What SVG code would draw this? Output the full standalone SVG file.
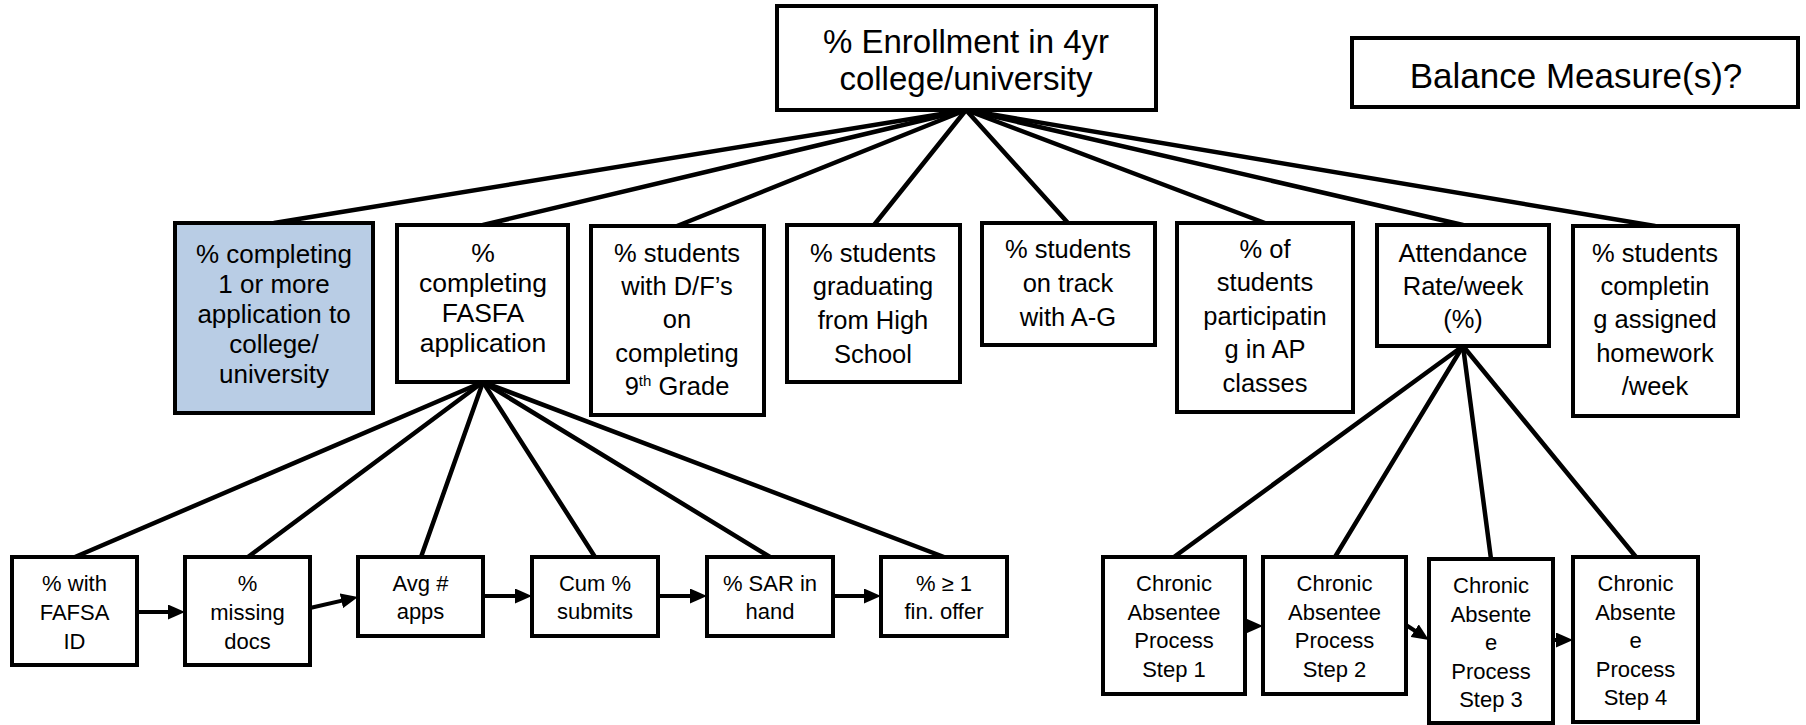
<svg xmlns="http://www.w3.org/2000/svg" width="1806" height="725" viewBox="0 0 1806 725">
  <style>
    .box { fill: #ffffff; stroke: #000000; stroke-width: 4; }
    .hi { fill: #b9cde5; }
    .lbl { font-family: "Liberation Sans", Arial, sans-serif; fill: #000000; text-anchor: middle; }
    .link { stroke: #000000; stroke-width: 4.5; stroke-linecap: round; fill: none; }
    .flow { stroke: #000000; stroke-width: 4; fill: none; marker-end: url(#arrow); }
  </style>
  <defs>
    <marker id="arrow" markerUnits="userSpaceOnUse" markerWidth="17" markerHeight="15" refX="4" refY="7.5" orient="auto">
      <path d="M0,0 L17,7.5 L0,15 z" fill="#000000"/>
    </marker>
  </defs>

  <rect width="1806" height="725" fill="#ffffff"/>

  <!-- tree connectors and process-flow arrows -->
  <g id="connectors">
    <!-- outcome to second-level drivers -->
    <line class="link" x1="966" y1="110" x2="274" y2="223"/>
    <line class="link" x1="966" y1="110" x2="483" y2="225"/>
    <line class="link" x1="966" y1="110" x2="677" y2="226"/>
    <line class="link" x1="966" y1="110" x2="874" y2="225"/>
    <line class="link" x1="966" y1="110" x2="1068" y2="223"/>
    <line class="link" x1="966" y1="110" x2="1265" y2="223"/>
    <line class="link" x1="966" y1="110" x2="1463" y2="225"/>
    <line class="link" x1="966" y1="110" x2="1655" y2="226"/>
    <!-- FASFA application to its process measures -->
    <line class="link" x1="483" y1="382" x2="75" y2="557"/>
    <line class="link" x1="483" y1="382" x2="248" y2="557"/>
    <line class="link" x1="483" y1="382" x2="421" y2="557"/>
    <line class="link" x1="483" y1="382" x2="595" y2="557"/>
    <line class="link" x1="483" y1="382" x2="770" y2="557"/>
    <line class="link" x1="483" y1="382" x2="944" y2="557"/>
    <!-- attendance to chronic absentee steps -->
    <line class="link" x1="1463" y1="346" x2="1174" y2="557"/>
    <line class="link" x1="1463" y1="346" x2="1335" y2="557"/>
    <line class="link" x1="1463" y1="346" x2="1491" y2="559"/>
    <line class="link" x1="1463" y1="346" x2="1636" y2="557"/>
    <!-- FASFA process flow -->
    <line class="flow" x1="137" y1="612" x2="172" y2="612"/>
    <line class="flow" x1="310" y1="608" x2="345.3" y2="599.9"/>
    <line class="flow" x1="483" y1="596" x2="519" y2="596"/>
    <line class="flow" x1="658" y1="596" x2="694" y2="596"/>
    <line class="flow" x1="833" y1="596" x2="868" y2="596"/>
    <!-- chronic absentee process flow -->
    <line class="flow" x1="1245" y1="626" x2="1250" y2="626"/>
    <line class="flow" x1="1406" y1="625" x2="1418" y2="632.8"/>
    <line class="flow" x1="1553" y1="640" x2="1560" y2="640"/>
  </g>

  <g id="outcome">
    <rect class="box" x="777" y="6" width="379" height="104"/>
    <text class="lbl" font-size="33"><tspan x="966" y="53">% Enrollment in 4yr</tspan><tspan x="966" y="90">college/university</tspan></text>
  </g>

  <g id="balance">
    <rect class="box" x="1352" y="38" width="446" height="69"/>
    <text class="lbl" font-size="35" x="1576" y="88">Balance Measure(s)?</text>
  </g>

  <g id="apply-college">
    <rect class="box hi" x="175" y="223" width="198" height="190"/>
    <text class="lbl" font-size="26"><tspan x="274" y="263">% completing</tspan><tspan x="274" y="293">1 or more</tspan><tspan x="274" y="323">application to</tspan><tspan x="274" y="353">college/</tspan><tspan x="274" y="383">university</tspan></text>
  </g>

  <g id="fasfa">
    <rect class="box" x="397" y="225" width="171" height="157"/>
    <text class="lbl" font-size="26.5"><tspan x="483" y="262">%</tspan><tspan x="483" y="292">completing</tspan><tspan x="483" y="322">FASFA</tspan><tspan x="483" y="352">application</tspan></text>
  </g>

  <g id="df-9th">
    <rect class="box" x="591" y="226" width="173" height="189"/>
    <text class="lbl" font-size="25.5"><tspan x="677" y="262">% students</tspan><tspan x="677" y="295">with D/F’s</tspan><tspan x="677" y="328">on</tspan><tspan x="677" y="362">completing</tspan><tspan x="677" y="395">9<tspan font-size="15" dy="-9">th</tspan><tspan dy="9"> Grade</tspan></tspan></text>
  </g>

  <g id="graduating">
    <rect class="box" x="787" y="225" width="173" height="157"/>
    <text class="lbl" font-size="25.5"><tspan x="873" y="262">% students</tspan><tspan x="873" y="295">graduating</tspan><tspan x="873" y="329">from High</tspan><tspan x="873" y="363">School</tspan></text>
  </g>

  <g id="a-g">
    <rect class="box" x="982" y="223" width="173" height="122"/>
    <text class="lbl" font-size="25.5"><tspan x="1068" y="258">% students</tspan><tspan x="1068" y="292">on track</tspan><tspan x="1068" y="326">with A-G</tspan></text>
  </g>

  <g id="ap-classes">
    <rect class="box" x="1177" y="223" width="176" height="189"/>
    <text class="lbl" font-size="25.5"><tspan x="1265" y="258">% of</tspan><tspan x="1265" y="291">students</tspan><tspan x="1265" y="325">participatin</tspan><tspan x="1265" y="358">g in AP</tspan><tspan x="1265" y="392">classes</tspan></text>
  </g>

  <g id="attendance">
    <rect class="box" x="1377" y="225" width="172" height="121"/>
    <text class="lbl" font-size="25.5"><tspan x="1463" y="262">Attendance</tspan><tspan x="1463" y="295">Rate/week</tspan><tspan x="1463" y="328">(%)</tspan></text>
  </g>

  <g id="homework">
    <rect class="box" x="1573" y="226" width="165" height="190"/>
    <text class="lbl" font-size="25.5"><tspan x="1655" y="262">% students</tspan><tspan x="1655" y="295">completin</tspan><tspan x="1655" y="328">g assigned</tspan><tspan x="1655" y="362">homework</tspan><tspan x="1655" y="395">/week</tspan></text>
  </g>

  <g id="fafsa-id">
    <rect class="box" x="12" y="557" width="125" height="108"/>
    <text class="lbl" font-size="22"><tspan x="74.5" y="591">% with</tspan><tspan x="74.5" y="620">FAFSA</tspan><tspan x="74.5" y="649">ID</tspan></text>
  </g>

  <g id="missing-docs">
    <rect class="box" x="185" y="557" width="125" height="108"/>
    <text class="lbl" font-size="22"><tspan x="247.5" y="591">%</tspan><tspan x="247.5" y="620">missing</tspan><tspan x="247.5" y="649">docs</tspan></text>
  </g>

  <g id="avg-apps">
    <rect class="box" x="358" y="557" width="125" height="79"/>
    <text class="lbl" font-size="22"><tspan x="420.5" y="591">Avg #</tspan><tspan x="420.5" y="619">apps</tspan></text>
  </g>

  <g id="cum-submits">
    <rect class="box" x="532" y="557" width="126" height="79"/>
    <text class="lbl" font-size="22"><tspan x="595" y="591">Cum %</tspan><tspan x="595" y="619">submits</tspan></text>
  </g>

  <g id="sar-in-hand">
    <rect class="box" x="707" y="557" width="126" height="79"/>
    <text class="lbl" font-size="22"><tspan x="770" y="591">% SAR in</tspan><tspan x="770" y="619">hand</tspan></text>
  </g>

  <g id="fin-offer">
    <rect class="box" x="881" y="557" width="126" height="79"/>
    <text class="lbl" font-size="22"><tspan x="944" y="591">% ≥ 1</tspan><tspan x="944" y="619">fin. offer</tspan></text>
  </g>

  <g id="absentee-step-1">
    <rect class="box" x="1103" y="557" width="142" height="137"/>
    <text class="lbl" font-size="22"><tspan x="1174" y="591">Chronic</tspan><tspan x="1174" y="619.5">Absentee</tspan><tspan x="1174" y="648">Process</tspan><tspan x="1174" y="676.5">Step 1</tspan></text>
  </g>

  <g id="absentee-step-2">
    <rect class="box" x="1263" y="557" width="143" height="137"/>
    <text class="lbl" font-size="22"><tspan x="1334.5" y="591">Chronic</tspan><tspan x="1334.5" y="619.5">Absentee</tspan><tspan x="1334.5" y="648">Process</tspan><tspan x="1334.5" y="676.5">Step 2</tspan></text>
  </g>

  <g id="absentee-step-3">
    <rect class="box" x="1429" y="559" width="124" height="164"/>
    <text class="lbl" font-size="22"><tspan x="1491" y="593">Chronic</tspan><tspan x="1491" y="621.5">Absente</tspan><tspan x="1491" y="650">e</tspan><tspan x="1491" y="678.5">Process</tspan><tspan x="1491" y="707">Step 3</tspan></text>
  </g>

  <g id="absentee-step-4">
    <rect class="box" x="1573" y="557" width="125" height="165"/>
    <text class="lbl" font-size="22"><tspan x="1635.5" y="591">Chronic</tspan><tspan x="1635.5" y="619.5">Absente</tspan><tspan x="1635.5" y="648">e</tspan><tspan x="1635.5" y="676.5">Process</tspan><tspan x="1635.5" y="705">Step 4</tspan></text>
  </g>
</svg>
